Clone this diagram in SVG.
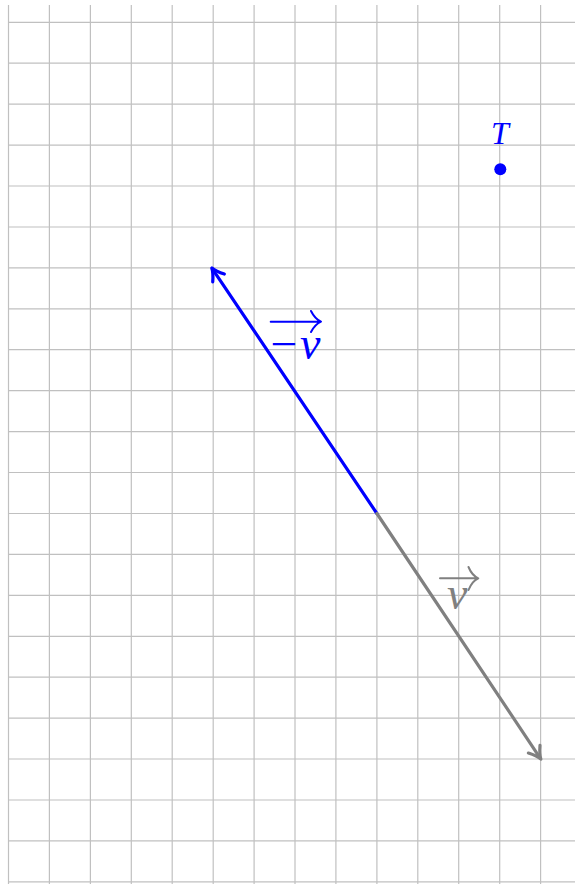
<svg xmlns="http://www.w3.org/2000/svg" width="575" height="884" viewBox="0 0 575 884">
<defs>
<style>
.grid line{stroke:#c0c0c0;stroke-width:1.2}
.vec{fill:none;stroke-width:3.2;stroke-linecap:round}
.acc{fill:none;stroke-width:2;stroke-linecap:round;stroke-linejoin:round}
.math{font-family:"Liberation Serif","DejaVu Serif",serif;font-style:italic}
.op{font-family:"Liberation Serif","DejaVu Serif",serif}
</style>
<marker id="hb" markerUnits="userSpaceOnUse" markerWidth="30" markerHeight="30" refX="0" refY="0" viewBox="-15 -15 30 30" orient="auto" overflow="visible">
<path d="M -11 -7 Q -4 -1.5 1 0 Q -4 1.5 -11 7" fill="none" stroke="#0000ff" stroke-width="3.2" stroke-linecap="round" stroke-linejoin="round"/>
</marker>
<marker id="hg" markerUnits="userSpaceOnUse" markerWidth="30" markerHeight="30" refX="0" refY="0" viewBox="-15 -15 30 30" orient="auto" overflow="visible">
<path d="M -11 -7 Q -4 -1.5 1 0 Q -4 1.5 -11 7" fill="none" stroke="#808080" stroke-width="3.2" stroke-linecap="round" stroke-linejoin="round"/>
</marker>
</defs>
<rect width="575" height="884" fill="#ffffff"/>
<g id="grid" class="grid">
<line x1="8.5" y1="5" x2="8.5" y2="884"/>
<line x1="49.4" y1="5" x2="49.4" y2="884"/>
<line x1="90.4" y1="5" x2="90.4" y2="884"/>
<line x1="131.3" y1="5" x2="131.3" y2="884"/>
<line x1="172.2" y1="5" x2="172.2" y2="884"/>
<line x1="213.2" y1="5" x2="213.2" y2="884"/>
<line x1="254.1" y1="5" x2="254.1" y2="884"/>
<line x1="295" y1="5" x2="295" y2="884"/>
<line x1="335.9" y1="5" x2="335.9" y2="884"/>
<line x1="376.9" y1="5" x2="376.9" y2="884"/>
<line x1="417.8" y1="5" x2="417.8" y2="884"/>
<line x1="458.7" y1="5" x2="458.7" y2="884"/>
<line x1="499.7" y1="5" x2="499.7" y2="884"/>
<line x1="540.6" y1="5" x2="540.6" y2="884"/>
<line x1="8" y1="22.3" x2="575" y2="22.3"/>
<line x1="8" y1="63.2" x2="575" y2="63.2"/>
<line x1="8" y1="104.2" x2="575" y2="104.2"/>
<line x1="8" y1="145.1" x2="575" y2="145.1"/>
<line x1="8" y1="186" x2="575" y2="186"/>
<line x1="8" y1="227" x2="575" y2="227"/>
<line x1="8" y1="267.9" x2="575" y2="267.9"/>
<line x1="8" y1="308.8" x2="575" y2="308.8"/>
<line x1="8" y1="349.7" x2="575" y2="349.7"/>
<line x1="8" y1="390.7" x2="575" y2="390.7"/>
<line x1="8" y1="431.6" x2="575" y2="431.6"/>
<line x1="8" y1="472.5" x2="575" y2="472.5"/>
<line x1="8" y1="513.5" x2="575" y2="513.5"/>
<line x1="8" y1="554.4" x2="575" y2="554.4"/>
<line x1="8" y1="595.3" x2="575" y2="595.3"/>
<line x1="8" y1="636.3" x2="575" y2="636.3"/>
<line x1="8" y1="677.2" x2="575" y2="677.2"/>
<line x1="8" y1="718.1" x2="575" y2="718.1"/>
<line x1="8" y1="759" x2="575" y2="759"/>
<line x1="8" y1="800" x2="575" y2="800"/>
<line x1="8" y1="840.9" x2="575" y2="840.9"/>
<line x1="8" y1="881.8" x2="575" y2="881.8"/>
</g>
<g id="connectors">
<line class="vec" x1="376.9" y1="513.5" x2="212.4" y2="268.8" stroke="#0000ff" marker-end="url(#hb)"/>
<line class="vec" x1="376.9" y1="513.5" x2="540.3" y2="758.3" stroke="#808080" marker-end="url(#hg)"/>
</g>
<g id="label-neg-v">
<text class="op" x="270.5" y="359" font-size="44" fill="#0000ff" textLength="27" lengthAdjust="spacingAndGlyphs">−</text>
<text class="math" x="300" y="359" font-size="46" fill="#0000ff">v</text>
<path class="acc" stroke="#0000ff" d="M 270.7 321.7 L 320.5 321.7 M 311 311 Q 315 319 321 321.7 Q 315 324.5 311 332"/>
</g>
<g id="label-v">
<text class="math" x="447" y="609" font-size="46" fill="#808080">v</text>
<path class="acc" stroke="#808080" d="M 440 578.3 L 477.8 578.3 M 468.5 567 Q 472 575.5 478.3 578.3 Q 472 581 468.5 590"/>
</g>
<g id="point-T">
<circle cx="500.3" cy="169.3" r="6" fill="#0000ff"/>
<text class="math" x="500" y="144" font-size="32" fill="#0000ff" text-anchor="middle">T</text>
</g>
</svg>
